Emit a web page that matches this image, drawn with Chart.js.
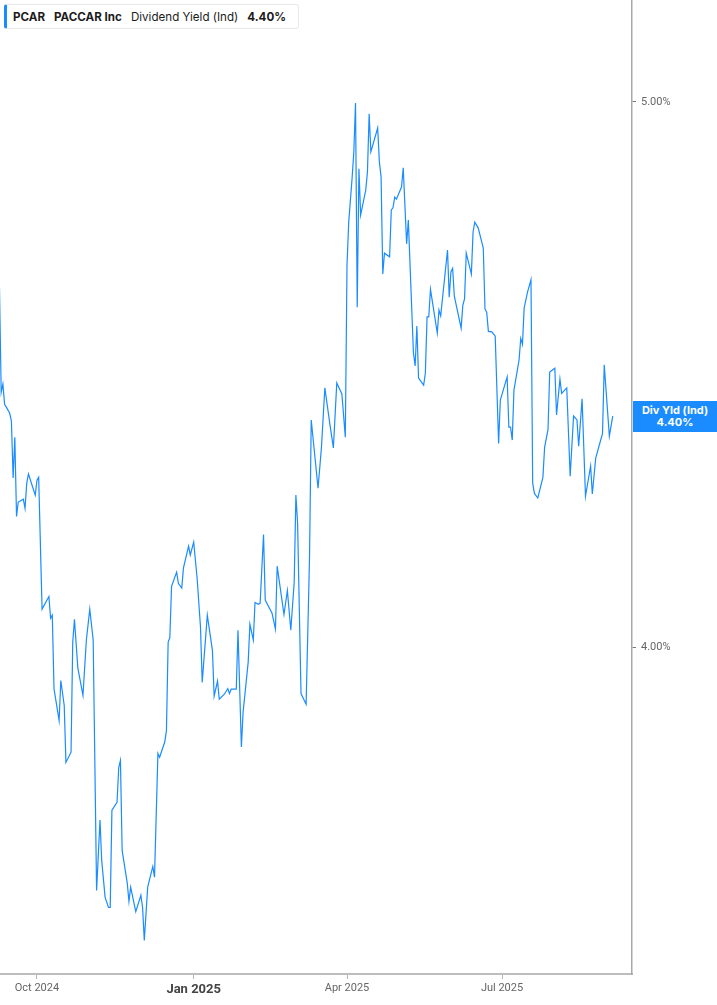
<!DOCTYPE html>
<html>
<head>
<meta charset="utf-8">
<script src="https://cdn.jsdelivr.net/npm/chart.js@4.4.1/dist/chart.umd.min.js"></script>
<style>
  html, body { margin: 0; padding: 0; background: #fff; }
  #wrap { position: relative; width: 717px; height: 1005px; }
  #head {
    position: absolute; left: 4px; top: 4px; height: 25px;
    border: 1px solid #e8e8e8; border-left: 3px solid #1a8cff; border-radius: 3px;
    background: #fff; font: 11.6px Inter, "Noto Sans", sans-serif; color: #1c1c1c;
    display: flex; align-items: center; padding: 0 12px 0 6px; box-sizing: border-box;
  }
  #head span { margin-right: 9px; white-space: nowrap; }
  #head span:last-child { margin-right: 0; }
  #head b { font-weight: 700; }
  #badge {
    position: absolute; left: 633px; width: 84px; height: 31px;
    background: #1a8cff; color: #fff; text-align: center;
    font: bold 11px Inter, "Noto Sans", sans-serif; line-height: 12px;
    display: flex; flex-direction: column; justify-content: center;
  }
</style>
</head>
<body>
<div id="wrap">
  <canvas id="c"></canvas>
  <div id="head"><span><b>PCAR</b></span><span><b>PACCAR Inc</b></span><span>Dividend Yield (Ind)</span><span><b>4.40%</b></span></div>
  <div id="badge"><div>Div Yld (Ind)</div><div>4.40%</div></div>
</div>
<script>
// PCAR dividend yield (indicated)
const dates = [
  '2024-09-09','2024-09-10','2024-09-11','2024-09-12','2024-09-13','2024-09-15','2024-09-16','2024-09-17','2024-09-18','2024-09-19',
  '2024-09-20','2024-09-23','2024-09-24','2024-09-25','2024-09-26','2024-09-30','2024-10-01','2024-10-02','2024-10-04','2024-10-08',
  '2024-10-09','2024-10-10','2024-10-11','2024-10-14','2024-10-15','2024-10-17','2024-10-18','2024-10-21','2024-10-22','2024-10-23',
  '2024-10-25','2024-10-28','2024-10-30','2024-11-01','2024-11-03','2024-11-05','2024-11-07','2024-11-08','2024-11-10','2024-11-12',
  '2024-11-13','2024-11-14','2024-11-17','2024-11-18','2024-11-19','2024-11-20','2024-11-23','2024-11-24','2024-11-25','2024-11-28',
  '2024-12-01','2024-12-02','2024-12-03','2024-12-05','2024-12-08','2024-12-09','2024-12-11','2024-12-12','2024-12-15','2024-12-16',
  '2024-12-17','2024-12-18','2024-12-19','2024-12-22','2024-12-23','2024-12-25','2024-12-26','2024-12-29','2024-12-30','2025-01-01',
  '2025-01-03','2025-01-05','2025-01-06','2025-01-09','2025-01-12','2025-01-13','2025-01-15','2025-01-16','2025-01-19','2025-01-21',
  '2025-01-22','2025-01-23','2025-01-26','2025-01-27','2025-01-29','2025-01-30','2025-02-02','2025-02-03','2025-02-05','2025-02-06',
  '2025-02-08','2025-02-09','2025-02-11','2025-02-12','2025-02-16','2025-02-18','2025-02-19','2025-02-23','2025-02-25','2025-02-27',
  '2025-03-01','2025-03-02','2025-03-03','2025-03-05','2025-03-08','2025-03-10','2025-03-11','2025-03-15','2025-03-17','2025-03-19',
  '2025-03-22','2025-03-24','2025-03-26','2025-03-29','2025-03-31','2025-04-01','2025-04-02','2025-04-04','2025-04-05','2025-04-06',
  '2025-04-07','2025-04-08','2025-04-09','2025-04-12','2025-04-13','2025-04-14','2025-04-15','2025-04-19','2025-04-20','2025-04-21',
  '2025-04-22','2025-04-23','2025-04-26','2025-04-27','2025-04-28','2025-04-29','2025-04-30','2025-05-03','2025-05-04','2025-05-06',
  '2025-05-07','2025-05-10','2025-05-11','2025-05-12','2025-05-13','2025-05-16','2025-05-17','2025-05-18','2025-05-19','2025-05-20',
  '2025-05-24','2025-05-25','2025-05-26','2025-05-30','2025-05-31','2025-06-01','2025-06-02','2025-06-03','2025-06-07','2025-06-08',
  '2025-06-09','2025-06-10','2025-06-13','2025-06-14','2025-06-15','2025-06-17','2025-06-20','2025-06-21','2025-06-22','2025-06-23',
  '2025-06-25','2025-06-27','2025-06-29','2025-06-30','2025-07-04','2025-07-05','2025-07-06','2025-07-07','2025-07-08','2025-07-11',
  '2025-07-12','2025-07-13','2025-07-14','2025-07-16','2025-07-18','2025-07-19','2025-07-20','2025-07-22','2025-07-25','2025-07-26',
  '2025-07-28','2025-07-29','2025-08-01','2025-08-02','2025-08-04','2025-08-05','2025-08-08','2025-08-10','2025-08-12','2025-08-14',
  '2025-08-15','2025-08-17','2025-08-19','2025-08-22','2025-08-23','2025-08-25','2025-08-29','2025-08-30','2025-09-02','2025-09-04'
];
const yields = [
  4.633,4.440,4.455,4.418,4.413,4.402,4.388,4.287,4.359,4.220,
  4.245,4.250,4.234,4.278,4.294,4.257,4.283,4.288,4.063,4.084,
  4.048,4.053,3.933,3.882,3.946,3.906,3.816,3.832,4.008,4.046,
  3.966,3.922,4.012,4.063,4.012,3.621,3.727,3.666,3.611,3.596,
  3.596,3.742,3.754,3.808,3.819,3.681,3.632,3.605,3.626,3.590,
  3.614,3.596,3.548,3.626,3.657,3.641,3.830,3.824,3.848,3.866,
  4.008,4.016,4.101,4.125,4.106,4.098,4.132,4.169,4.154,4.176,
  4.115,4.033,3.943,4.053,3.995,3.921,3.945,3.916,3.924,3.933,
  3.925,3.932,3.932,4.028,3.840,3.895,3.976,4.038,4.012,4.074,
  4.071,4.073,4.189,4.078,4.056,4.030,4.135,4.054,4.094,4.028,
  4.108,4.257,4.208,3.925,3.908,4.150,4.390,4.269,4.341,4.448,
  4.381,4.340,4.457,4.437,4.359,4.677,4.760,4.847,4.899,4.998,
  4.597,4.865,4.774,4.823,4.859,4.976,4.899,4.947,4.879,4.849,
  4.660,4.700,4.693,4.784,4.788,4.809,4.805,4.829,4.867,4.718,
  4.764,4.512,4.488,4.562,4.466,4.453,4.475,4.579,4.579,4.631,
  4.549,4.592,4.581,4.706,4.616,4.664,4.671,4.618,4.558,4.601,
  4.613,4.700,4.660,4.741,4.760,4.749,4.710,4.594,4.588,4.552,
  4.551,4.543,4.348,4.426,4.468,4.377,4.377,4.354,4.444,4.499,
  4.539,4.528,4.596,4.626,4.649,4.278,4.260,4.252,4.288,4.341,
  4.373,4.477,4.484,4.399,4.464,4.438,4.448,4.290,4.397,4.390,
  4.343,4.428,4.255,4.308,4.259,4.322,4.366,4.490,4.361,4.397
];
const tickDates = ['2024-10-01', '2025-01-01', '2025-04-01', '2025-07-01'];
const tickLabels = ['Oct 2024', 'Jan 2025', 'Apr 2025', 'Jul 2025'];
const yTicks = [4, 5];

const dayNum = s => Date.UTC(+s.slice(0, 4), +s.slice(5, 7) - 1, +s.slice(8, 10)) / 86400000;
const points = dates.map((d, i) => ({ x: dayNum(d), y: yields[i] }));

const canvas = document.getElementById('c');
canvas.style.width = '717px';
canvas.style.height = '1005px';

// keep the value badge on the right axis at the last yield
const badgePlugin = {
  id: 'badge',
  afterDraw(chart) {
    const y = chart.scales.y.getPixelForValue(yields[yields.length - 1]);
    document.getElementById('badge').style.top = (y - 15.5) + 'px';
  }
};

new Chart(canvas, {
  type: 'line',
  data: {
    datasets: [{
      data: points,
      borderColor: '#1a8cff',
      borderWidth: 1.2,
      pointRadius: 0,
      tension: 0,
      fill: false
    }]
  },
  options: {
    responsive: true,
    maintainAspectRatio: false,
    animation: false,
    layout: { padding: 0 },
    plugins: { legend: { display: false }, tooltip: { enabled: false } },
    scales: {
      x: {
        type: 'linear',
        min: dayNum('2024-09-09') + 0.3,
        max: dayNum('2025-09-15') + 0.3,
        afterBuildTicks: s => { s.ticks = tickDates.map(d => ({ value: dayNum(d) })); },
        afterFit: s => { s.height = 31; s.paddingLeft = 0; s.paddingRight = 0; },
        grid: { drawOnChartArea: false, drawTicks: true, tickLength: 5, color: '#b5b5b5' },
        border: { display: true, color: '#bdbdbd', width: 2 },
        ticks: {
          autoSkip: false,
          maxRotation: 0,
          padding: 3,
          callback: (v, i) => tickLabels[i],
          color: ctx => tickLabels[ctx.index] === 'Jan 2025' ? '#444' : '#666',
          font: ctx => tickLabels[ctx.index] === 'Jan 2025'
            ? { family: '"Liberation Sans Narrow", Roboto, sans-serif', size: 13, weight: 'bold' }
            : { family: '"Liberation Sans Narrow", Roboto, sans-serif', size: 11 }
        }
      },
      y: {
        type: 'logarithmic',
        position: 'right',
        min: 3.4995,
        max: 5.213,
        afterBuildTicks: s => { s.ticks = yTicks.map(v => ({ value: v })); },
        afterFit: s => { s.width = 85; s.paddingTop = 0; s.paddingBottom = 0; },
        grid: { drawOnChartArea: false, drawTicks: true, tickLength: 4, color: '#777' },
        border: { display: true, color: '#a8a8a8', width: 1.5 },
        ticks: {
          padding: 5,
          color: '#666',
          font: { family: 'Roboto, sans-serif', size: 11 },
          callback: v => v.toFixed(2) + '%'
        }
      }
    }
  },
  plugins: [badgePlugin]
});
</script>
</body>
</html>
